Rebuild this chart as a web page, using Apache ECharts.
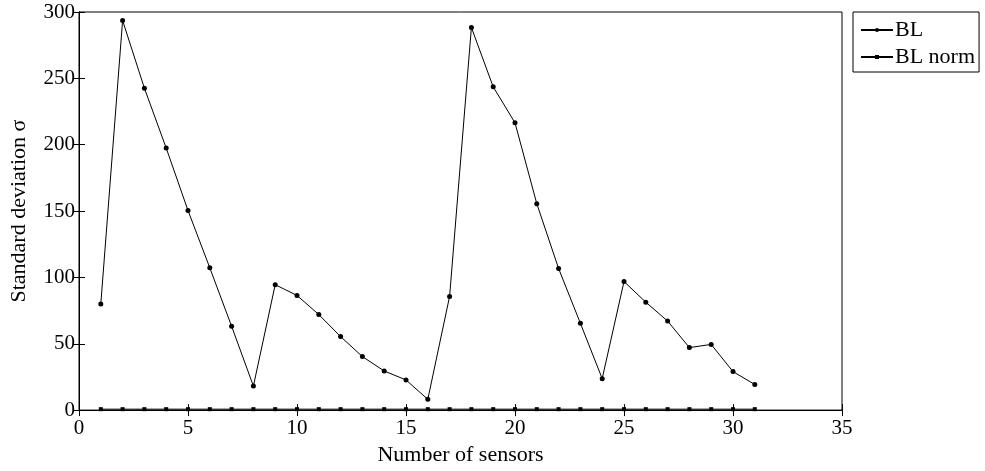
<!DOCTYPE html>
<html>
<head>
<meta charset="utf-8">
<script src="https://cdn.jsdelivr.net/npm/echarts@6/dist/echarts.min.js"></script>
<style>
  html, body { margin: 0; padding: 0; background: #fff; }
  #chart { width: 985px; height: 471px; }
</style>
</head>
<body>
<div id="chart"></div>
<script>
// number of sensors
var sensors = [1, 2, 3, 4, 5, 6, 7, 8, 9, 10, 11, 12, 13, 14, 15, 16,
               17, 18, 19, 20, 21, 22, 23, 24, 25, 26, 27, 28, 29, 30, 31];
// standard deviation, BL
var blValues = [80, 293.6, 242.6, 197.5, 150.4, 107.2, 63.2, 18.1, 94.5, 86.4, 72, 55.4, 40.3, 29.5, 22.7, 8.1,
                85.7, 288.3, 243.6, 216.5, 155.5, 106.7, 65.4, 23.7, 96.9, 81.3, 67.1, 47.1, 49.5, 29, 19.3];
// standard deviation, BL norm
var blNormValues = [0.7, 0.7, 0.7, 0.7, 0.7, 0.7, 0.7, 0.7, 0.7, 0.7, 0.7, 0.7, 0.7, 0.7, 0.7, 0.7,
                    0.7, 0.7, 0.7, 0.7, 0.7, 0.7, 0.7, 0.7, 0.7, 0.7, 0.7, 0.7, 0.7, 0.7, 0.7];
var xTicks = { min: 0, max: 35, interval: 5 };
var yTicks = { min: 0, max: 300, interval: 50 };

var font = 'Liberation Serif';

function pairs(xs, ys) {
  return xs.map(function (x, i) { return [x, ys[i]]; });
}

var chart = echarts.init(document.getElementById('chart'));
chart.setOption({
  animation: false,
  textStyle: { fontFamily: font },
  grid: {
    left: 74, right: 143, top: 12, bottom: 49,
    show: true, borderColor: '#000', borderWidth: 1
  },
  legend: {
    orient: 'vertical',
    left: 853, top: 12,
    padding: [7, 4, 4, 7],
    itemGap: 5,
    itemWidth: 32,
    itemHeight: 5,
    borderColor: '#000',
    borderWidth: 1,
    textStyle: { fontFamily: font, fontSize: 22, color: '#000', padding: [0, 0, 0, -3] },
    data: ['BL', 'BL norm']
  },
  xAxis: [{
    type: 'value',
    min: xTicks.min, max: xTicks.max, interval: xTicks.interval,
    name: 'Number of sensors',
    nameLocation: 'middle',
    nameGap: 32,
    nameTextStyle: { fontFamily: font, fontSize: 22, color: '#000' },
    axisLine: { show: true, onZero: false, lineStyle: { color: '#000', width: 1 } },
    axisTick: { show: true, inside: true, length: 6, lineStyle: { color: '#000' } },
    axisLabel: { fontFamily: font, fontSize: 21, color: '#000', margin: 8 },
    splitLine: { show: false }
  }, {
    type: 'value', position: 'top',
    min: xTicks.min, max: xTicks.max, interval: xTicks.interval,
    axisLine: { show: true, lineStyle: { color: '#000', width: 1 } },
    axisTick: { show: true, inside: true, length: 6, lineStyle: { color: '#000' } },
    axisLabel: { show: false },
    splitLine: { show: false }
  }],
  yAxis: [{
    type: 'value',
    min: yTicks.min, max: yTicks.max, interval: yTicks.interval,
    name: 'Standard deviation σ',
    nameLocation: 'middle',
    nameGap: 49,
    nameTextStyle: { fontFamily: font, fontSize: 22, color: '#000' },
    axisLine: { show: true, lineStyle: { color: '#000', width: 1 } },
    axisTick: { show: true, inside: true, length: 6, lineStyle: { color: '#000' } },
    axisLabel: { fontFamily: font, fontSize: 21, color: '#000', margin: 4 },
    splitLine: { show: false }
  }, {
    type: 'value', position: 'right',
    min: yTicks.min, max: yTicks.max, interval: yTicks.interval,
    axisLine: { show: true, lineStyle: { color: '#000', width: 1 } },
    axisTick: { show: true, inside: true, length: 6, lineStyle: { color: '#000' } },
    axisLabel: { show: false },
    splitLine: { show: false }
  }],
  series: [{
    name: 'BL',
    type: 'line',
    data: pairs(sensors, blValues),
    symbol: 'circle',
    symbolSize: 5,
    showAllSymbol: true,
    itemStyle: { color: '#000' },
    lineStyle: { color: '#000', width: 1 }
  }, {
    name: 'BL norm',
    type: 'line',
    data: pairs(sensors, blNormValues),
    symbol: 'rect',
    symbolSize: 4,
    showAllSymbol: true,
    itemStyle: { color: '#000' },
    lineStyle: { color: '#000', width: 1 }
  }]
});
</script>
</body>
</html>
